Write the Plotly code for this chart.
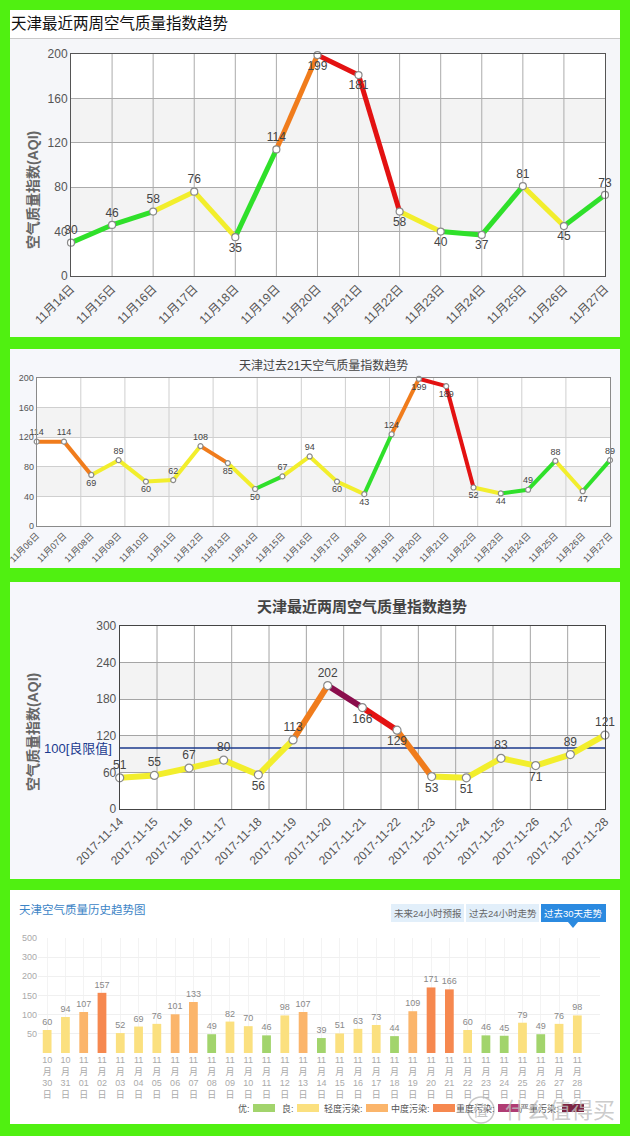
import plotly.graph_objects as go

W, H = 630, 1136
FONT = "Liberation Sans, Noto Sans CJK SC, sans-serif"

# ---------------- data ----------------
title1 = "天津最近两周空气质量指数趋势"
dates1 = ["11月14日", "11月15日", "11月16日", "11月17日", "11月18日", "11月19日", "11月20日",
          "11月21日", "11月22日", "11月23日", "11月24日", "11月25日", "11月26日", "11月27日"]
aqi1 = [30, 46, 58, 76, 35, 114, 199, 181, 58, 40, 37, 81, 45, 73]

title2 = "天津过去21天空气质量指数趋势"
dates2 = ["11月06日", "11月07日", "11月08日", "11月09日", "11月10日", "11月11日", "11月12日",
          "11月13日", "11月14日", "11月15日", "11月16日", "11月17日", "11月18日", "11月19日",
          "11月20日", "11月21日", "11月22日", "11月23日", "11月24日", "11月25日", "11月26日",
          "11月27日"]
aqi2 = [114, 114, 69, 89, 60, 62, 108, 85, 50, 67, 94, 60, 43, 124, 199, 189, 52, 44, 49, 88, 47, 89]

title3 = "天津最近两周空气质量指数趋势"
dates3 = ["2017-11-14", "2017-11-15", "2017-11-16", "2017-11-17", "2017-11-18", "2017-11-19",
          "2017-11-20", "2017-11-21", "2017-11-22", "2017-11-23", "2017-11-24", "2017-11-25",
          "2017-11-26", "2017-11-27", "2017-11-28"]
aqi3 = [51, 55, 67, 80, 56, 113, 202, 166, 129, 53, 51, 83, 71, 89, 121]
limit3 = 100
limit3_label = "100[良限值]"

title4 = "天津空气质量历史趋势图"
months4 = ["10", "10"] + ["11"] * 28
days4 = ["30", "31", "01", "02", "03", "04", "05", "06", "07", "08", "09", "10", "11", "12", "13",
         "14", "15", "16", "17", "18", "19", "20", "21", "22", "23", "24", "25", "26", "27", "28"]
aqi4 = [60, 94, 107, 157, 52, 69, 76, 101, 133, 49, 82, 70, 46, 98, 107, 39, 51, 63, 73, 44,
        109, 171, 166, 60, 46, 45, 79, 49, 76, 98]
scale4 = [0, 50, 100, 150, 200, 300, 500]
levels = ["优", "良", "轻度污染", "中度污染", "重度污染", "严重污染"]
buttons4 = ["未来24小时预报", "过去24小时走势", "过去30天走势"]
ytitle = "空气质量指数(AQI)"
thresholds = [50, 100, 150, 200, 300]

# ---------------- styles ----------------
LINE_COLORS = ["#2fe02a", "#f2ee2c", "#f07c1c", "#e31212", "#8a0d4c", "#5a0a2a"]
BAR_COLORS = ["#a2d46c", "#fbe07f", "#fbb56b", "#f6884f", "#b03c73", "#7b2442"]
GREEN = "#50f011"


def lvl(v):
    return sum(v > t for t in thresholds)


def px(x):
    return x / W


def py(y):
    return 1 - y / H


fig = go.Figure()
shapes = []
annotations = []

# panels
panels = [(10, 10, 620, 337, "#f5f6f9"), (10, 349, 620, 568, "#f6f7fb"),
          (10, 582, 620, 879, "#f6f7fb"), (10, 890, 620, 1124, "#ffffff")]
for x0, y0, x1, y1, c in panels:
    shapes.append(dict(type="rect", xref="paper", yref="paper", x0=px(x0), x1=px(x1),
                       y0=py(y1), y1=py(y0), fillcolor=c, line=dict(width=0), layer="below"))
# panel 1 white title bar
shapes.append(dict(type="rect", xref="paper", yref="paper", x0=px(10), x1=px(620),
                   y0=py(38), y1=py(10), fillcolor="#ffffff", line=dict(width=0), layer="below"))
shapes.append(dict(type="line", xref="paper", yref="paper", x0=px(10), x1=px(620),
                   y0=py(38.5), y1=py(38.5), line=dict(color="#c9c9c9", width=1), layer="below"))


def line_panel(k, dates, aqi, ymax, dtick, dom_x, dom_y, tfs, lfs, lw, ms, gridc, linec, limit=None):
    xa = "x" if k == 1 else f"x{k}"
    ya = "y" if k == 1 else f"y{k}"
    n = len(aqi)
    # plot background + alternate bands
    shapes.append(dict(type="rect", xref=f"{xa} domain", yref=f"{ya} domain", x0=0, x1=1, y0=0, y1=1,
                       fillcolor="#ffffff", line=dict(width=0), layer="below"))
    nb = int(ymax / dtick)
    for b in range(nb):
        if b % 2 == 1:
            shapes.append(dict(type="rect", xref=f"{xa} domain", yref=ya, x0=0, x1=1,
                               y0=b * dtick, y1=(b + 1) * dtick, fillcolor="#f3f3f3",
                               line=dict(width=0), layer="below"))
    # vertical grid lines (13 intervals)
    for g in range(1, 13):
        xg = g * (n - 1) / 13
        shapes.append(dict(type="line", xref=xa, yref=f"{ya} domain", x0=xg, x1=xg, y0=0, y1=1,
                           line=dict(color=gridc, width=1), layer="below"))
    if limit is not None:
        fig.add_trace(go.Scatter(x=[0, n - 1], y=[limit, limit], mode="lines",
                                 line=dict(color="#1b3a8c", width=1.5),
                                 xaxis=xa, yaxis=ya, hoverinfo="skip"))
    for i in range(n - 1):
        fig.add_trace(go.Scatter(x=[i, i + 1], y=[aqi[i], aqi[i + 1]], mode="lines",
                                 line=dict(color=LINE_COLORS[lvl(aqi[i])], width=lw),
                                 xaxis=xa, yaxis=ya, hoverinfo="skip", cliponaxis=False))
    pos = ["bottom center" if (i > 0 and aqi[i] < aqi[i - 1]) or aqi[i] > 0.95 * ymax else "top center"
           for i in range(n)]
    fig.add_trace(go.Scatter(x=list(range(n)), y=aqi, mode="markers+text", text=[str(v) for v in aqi],
                             textposition=pos, textfont=dict(size=lfs, color="#444"),
                             marker=dict(color="white", size=ms, line=dict(color="#8a8a8a", width=1.2)),
                             xaxis=xa, yaxis=ya, cliponaxis=False, hoverinfo="skip"))
    xkey = "xaxis" if k == 1 else f"xaxis{k}"
    ykey = "yaxis" if k == 1 else f"yaxis{k}"
    fig.update_layout(**{
        xkey: dict(domain=[px(dom_x[0]), px(dom_x[1])], anchor=ya, range=[0, n - 1],
                   tickvals=list(range(n)), ticktext=dates, tickangle=-45, automargin=False,
                   tickfont=dict(size=tfs, color="#555"), showgrid=False, zeroline=False,
                   showline=True, linecolor=linec, linewidth=1, mirror=True, ticks=""),
        ykey: dict(domain=[py(dom_y[1]), py(dom_y[0])], anchor=xa, range=[0, ymax], dtick=dtick,
                   tickfont=dict(size=tfs, color="#555"), showgrid=True, gridcolor=gridc,
                   zeroline=False, showline=True, linecolor=linec, linewidth=1, mirror=True,
                   ticks="", automargin=False),
    })


line_panel(1, dates1, aqi1, 200, 40, (71, 605), (54, 276), 12, 12, 5, 7, "#ababab", "#555")
line_panel(2, dates2, aqi2, 200, 40, (36.7, 610), (378, 526), 9, 9, 4, 5, "#cfcfcf", "#8a8a8a")
line_panel(3, dates3, aqi3, 300, 60, (119.7, 605), (625.7, 809), 12, 12, 6, 8, "#a5a5a5", "#444",
           limit=limit3)

annotations.append(dict(text=limit3_label, xref="paper", yref="paper", x=px(114), y=py(748),
                        xanchor="right", yanchor="middle", showarrow=False,
                        font=dict(size=13, color="#1a3a8f")))

# titles
annotations.append(dict(text=title1, xref="paper", yref="paper", x=px(9), y=py(24),
                        xanchor="left", yanchor="middle", showarrow=False,
                        font=dict(size=15.5, color="#111")))
annotations.append(dict(text=title2, xref="paper", yref="paper", x=px(323), y=py(365),
                        xanchor="center", yanchor="middle", showarrow=False,
                        font=dict(size=12, color="#444")))
annotations.append(dict(text="<b>" + title3 + "</b>", xref="paper", yref="paper", x=px(362), y=py(606),
                        xanchor="center", yanchor="middle", showarrow=False,
                        font=dict(size=15, color="#444")))
annotations.append(dict(text=title4, xref="paper", yref="paper", x=px(17), y=py(909),
                        xanchor="left", yanchor="middle", showarrow=False,
                        font=dict(size=11.5, color="#3c84c6")))
for yc in (190, 732):
    annotations.append(dict(text="<b>" + ytitle + "</b>", xref="paper", yref="paper", x=px(33), y=py(yc),
                            xanchor="center", yanchor="middle", showarrow=False, textangle=-90,
                            font=dict(size=14, color="#666")))


# ---------------- panel 4: bars ----------------
def to_scale(v):
    for j in range(1, len(scale4)):
        if v <= scale4[j]:
            return (j - 1) + (v - scale4[j - 1]) / (scale4[j] - scale4[j - 1])
    return len(scale4) - 1


nb4 = len(aqi4)
fig.add_trace(go.Bar(x=list(range(nb4)), y=[to_scale(v) for v in aqi4],
                     marker=dict(color=[BAR_COLORS[lvl(v)] for v in aqi4], line=dict(width=0)),
                     width=0.48, text=[str(v) for v in aqi4], textposition="outside",
                     constraintext="none", textfont=dict(size=9, color="#888"),
                     cliponaxis=False, xaxis="x4", yaxis="y4", hoverinfo="skip"))
fig.update_layout(
    xaxis4=dict(domain=[px(38), px(600)], anchor="y4", range=[-0.5, 30.24],
                tickvals=list(range(nb4)),
                ticktext=[f"{m}<br>月<br>{d}<br>日" for m, d in zip(months4, days4)],
                tickfont=dict(size=9, color="#aaa"), showgrid=True, gridcolor="#f3f3f3",
                zeroline=False, showline=False, ticks="", automargin=False),
    yaxis4=dict(domain=[py(1053), py(938)], anchor="x4", range=[0, len(scale4) - 1],
                tickvals=list(range(1, len(scale4))), ticktext=[str(v) for v in scale4[1:]],
                tickfont=dict(size=9, color="#aaa"), showgrid=True, gridcolor="#f0f0f0",
                zeroline=False, showline=False, ticks="", automargin=False),
)

# buttons
btn_rects = [(391, 464, "#e2effa", "#666"), (466, 539, "#e2effa", "#666"), (541, 606, "#2b8ae0", "#fff")]
for (x0, x1, bg, fc), label in zip(btn_rects, buttons4):
    shapes.append(dict(type="rect", xref="paper", yref="paper", x0=px(x0), x1=px(x1),
                       y0=py(922), y1=py(904), fillcolor=bg, line=dict(width=0), layer="below"))
    annotations.append(dict(text=label, xref="paper", yref="paper", x=px((x0 + x1) / 2), y=py(913),
                            xanchor="center", yanchor="middle", showarrow=False,
                            font=dict(size=9.5, color=fc)))
shapes.append(dict(type="path", xref="paper", yref="paper",
                   path=f"M {px(568)},{py(922)} L {px(578)},{py(922)} L {px(573)},{py(928)} Z",
                   fillcolor="#2b8ae0", line=dict(width=0), layer="below"))

# legend
sw_x = [253, 297, 366, 433, 498, 562]
for xs, name, c in zip(sw_x, levels, BAR_COLORS):
    shapes.append(dict(type="rect", xref="paper", yref="paper", x0=px(xs), x1=px(xs + 22),
                       y0=py(1112), y1=py(1104), fillcolor=c, line=dict(width=0), layer="above"))
    annotations.append(dict(text=name + ":", xref="paper", yref="paper", x=px(xs - 1), y=py(1108),
                            xanchor="right", yanchor="middle", showarrow=False,
                            font=dict(size=9, color="#555")))

# watermark
shapes.append(dict(type="circle", xref="paper", yref="paper", x0=px(468), x1=px(494),
                   y0=py(1123), y1=py(1097), line=dict(color="rgba(185,185,185,0.8)", width=1.5),
                   layer="above"))
annotations.append(dict(text="值", xref="paper", yref="paper", x=px(481), y=py(1110),
                        xanchor="center", yanchor="middle", showarrow=False,
                        font=dict(size=15, color="rgba(185,185,185,0.85)")))
annotations.append(dict(text="什么值得买", xref="paper", yref="paper", x=px(503), y=py(1110),
                        xanchor="left", yanchor="middle", showarrow=False,
                        font=dict(size=22, color="rgba(190,190,190,0.8)")))

fig.update_layout(width=W, height=H, autosize=False, margin=dict(l=0, r=0, t=0, b=0, autoexpand=False),
                  paper_bgcolor=GREEN, plot_bgcolor="rgba(0,0,0,0)", showlegend=False,
                  font=dict(family=FONT, color="#555"), shapes=shapes, annotations=annotations,
                  bargap=0.5)

fig.write_html("out.html", config={"displayModeBar": False, "responsive": False},
               post_script="document.body.style.margin='0';document.body.style.overflow='hidden';")
